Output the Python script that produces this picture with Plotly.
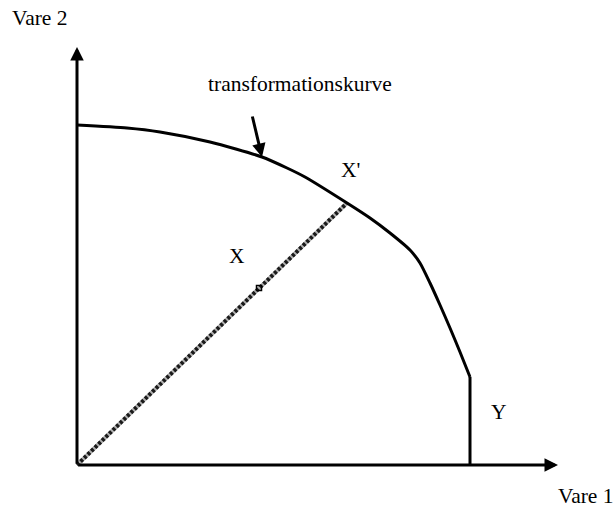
import plotly.graph_objects as go

# Transformation curve (Vare 1 on x, Vare 2 on y)
curve_x = [0, 50, 83, 133, 185, 210, 228, 270, 293, 313, 333, 343, 353, 363, 373, 383, 393]
curve_y = [340, 337, 333, 323, 308, 297, 288, 262, 247, 232, 215, 202, 182, 160, 137, 113, 88]
# vertical segment down to axis
vert_x = [393, 393]
vert_y = [88, 0]
# ray from origin to X'
ray_x = [0, 270]
ray_y = [0, 262]
# point X on the ray
pt_x = [182]
pt_y = [177]

FONT = "Liberation Serif"
fs = 21.5

fig = go.Figure()
fig.add_trace(go.Scatter(x=ray_x, y=ray_y, mode="lines",
                         line=dict(color="#b0b0b0", width=4), hoverinfo="skip"))
fig.add_trace(go.Scatter(x=ray_x, y=ray_y, mode="lines",
                         line=dict(color="#1a1a1a", width=4, dash="3px,2px"), hoverinfo="skip"))
fig.add_trace(go.Scatter(x=pt_x, y=pt_y, mode="markers",
                         marker=dict(symbol="square-open", size=5, color="black",
                                     line=dict(width=1.5, color="black")), hoverinfo="skip"))
fig.add_trace(go.Scatter(x=curve_x, y=curve_y, mode="lines",
                         line=dict(color="black", width=3, shape="spline", smoothing=0.6),
                         hoverinfo="skip"))
fig.add_trace(go.Scatter(x=vert_x, y=vert_y, mode="lines",
                         line=dict(color="black", width=3), hoverinfo="skip"))

ann = []
# axes arrows
ann.append(dict(x=0, y=418, ax=0, ay=0, xref="x", yref="y", axref="x", ayref="y",
                showarrow=True, arrowhead=2, arrowsize=0.9, arrowwidth=3, arrowcolor="black", text=""))
ann.append(dict(x=481, y=0, ax=0, ay=0, xref="x", yref="y", axref="x", ayref="y",
                showarrow=True, arrowhead=2, arrowsize=0.9, arrowwidth=3, arrowcolor="black", text=""))
# small pointer arrow
ann.append(dict(x=185, y=308, ax=175, ay=350, xref="x", yref="y", axref="x", ayref="y",
                showarrow=True, arrowhead=2, arrowsize=0.9, arrowwidth=3, arrowcolor="black", text=""))

labels = [
    ("Vare 2", -37, 447),
    ("transformationskurve", 223, 381),
    ("X'", 273, 295),
    ("X", 160, 209),
    ("Y", 422, 53),
    ("Vare 1", 509, -31),
]
for t, x, y in labels:
    ann.append(dict(x=x, y=y, xref="x", yref="y", text=t, showarrow=False,
                    font=dict(family=FONT, size=fs, color="black")))

fig.update_layout(
    width=615, height=508,
    margin=dict(l=0, r=0, t=0, b=0),
    paper_bgcolor="white", plot_bgcolor="white",
    showlegend=False,
    xaxis=dict(range=[-77, 538], visible=False, fixedrange=True),
    yaxis=dict(range=[-43, 465], visible=False, fixedrange=True),
    annotations=ann,
)
fig.write_html("out.html", config={"displayModeBar": False},
               post_script="document.body.style.margin='0';document.body.style.overflow='hidden';")
